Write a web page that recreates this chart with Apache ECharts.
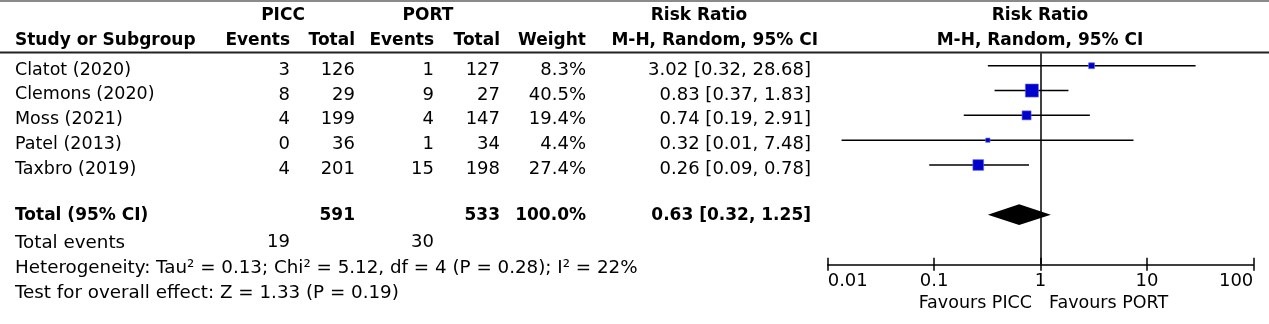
<!DOCTYPE html>
<html><head><meta charset="utf-8">
<script src="https://cdn.jsdelivr.net/npm/echarts@6/dist/echarts.min.js"></script>
<style>html,body{margin:0;padding:0;background:#fff}#c{width:1269px;height:324px}</style>
</head><body><div id="c"></div>
<script>
// ---- data ----
const studies = ['Clatot (2020)', 'Clemons (2020)', 'Moss (2021)', 'Patel (2013)', 'Taxbro (2019)'];
const piccEvents = [3, 8, 4, 0, 4];
const piccTotal = [126, 29, 199, 36, 201];
const portEvents = [1, 9, 4, 1, 15];
const portTotal = [127, 27, 147, 34, 198];
const weights = [8.3, 40.5, 19.4, 4.4, 27.4];
const riskRatio = [3.02, 0.83, 0.74, 0.32, 0.26];
const ciLow = [0.32, 0.37, 0.19, 0.0135, 0.09];
const ciHigh = [28.68, 1.83, 2.91, 7.48, 0.78];
const totalRow = { label: 'Total (95% CI)', piccTotal: 591, portTotal: 533, weight: 100.0, rr: 0.63, lo: 0.32, hi: 1.25 };
const totalEvents = { picc: 19, port: 30 };
const heterogeneityText = 'Heterogeneity: Tau\u00B2 = 0.13; Chi\u00B2 = 5.12, df = 4 (P = 0.28); I\u00B2 = 22%';
const overallText = 'Test for overall effect: Z = 1.33 (P = 0.19)';
const tickLabels = ['0.01', '0.1', '1', '10', '100'];
const favourLeft = 'Favours PICC';
const favourRight = 'Favours PORT';

// ---- layout / style ----
const FONT = '"DejaVu Sans", Verdana, sans-serif';
const fontName = '17.5px ' + FONT;
const fontNum = '18px ' + FONT;
const fontFoot = '18.3px ' + FONT;
const fontB = 'bold 17px ' + FONT;
const COL = { study: 15, evA: 290, totA: 355, evB: 434, totB: 500, weight: 586, ci: 811 };
const TXT_OFF = 4.3;

function fmtCI(r, l, h) { return r.toFixed(2) + ' [' + l.toFixed(2) + ', ' + h.toFixed(2) + ']'; }
function txt(text, x, y, align, font) {
  return { type: 'text', style: { text: text, x: x, y: y, align: align, verticalAlign: 'middle', fill: '#000', font: font } };
}

const chart = echarts.init(document.getElementById('c'), null, { renderer: 'canvas' });

const forestData = studies.map((s, i) => [riskRatio[i], i, ciLow[i], ciHigh[i], weights[i]]);
const tableRows = studies.map((s, i) => [1, i]);

const axisCommon = {
  type: 'log', logBase: 10, min: 0.01, max: 100, gridIndex: 0, position: 'bottom',
  splitLine: { show: false }, minorTick: { show: false }
};

const option = {
  animation: false,
  backgroundColor: '#fff',
  grid: { left: 827.7, right: 15.7, top: 53.3, height: 211, containLabel: false },
  xAxis: [
    Object.assign({}, axisCommon, {
      axisLine: { show: true, onZero: false, lineStyle: { color: '#000', width: 1.5 } },
      axisTick: { show: true, inside: false, length: 6.5, lineStyle: { color: '#000', width: 1.5 } },
      axisLabel: {
        show: true, margin: 8.5, color: '#000', fontFamily: FONT, fontSize: 18,
        alignMinLabel: 'left', alignMaxLabel: 'right',
        formatter: function (v) { return tickLabels[Math.round(Math.log10(v)) + 2]; }
      }
    }),
    Object.assign({}, axisCommon, {
      axisLine: { show: false, onZero: false },
      axisTick: { show: true, inside: true, length: 6.5, lineStyle: { color: '#000', width: 1.5 } },
      axisLabel: { show: false }
    })
  ],
  yAxis: { type: 'value', inverse: true, min: -0.5, max: 8, show: false },
  series: [
    {
      type: 'custom', name: 'forest', xAxisIndex: 0, clip: false,
      data: forestData,
      renderItem: function (params, api) {
        const y = api.value(1);
        const c = api.coord([api.value(0), y]);
        const l = api.coord([api.value(2), y]);
        const h = api.coord([api.value(3), y]);
        const s = 2.05 * Math.sqrt(api.value(4));
        return {
          type: 'group', children: [
            { type: 'line', shape: { x1: l[0], y1: c[1], x2: h[0], y2: c[1] }, style: { stroke: '#000', lineWidth: 1.5 } },
            { type: 'rect', shape: { x: c[0] - s / 2, y: c[1] - s / 2, width: s, height: s }, style: { fill: '#0000CC', stroke: '#6666ee', lineWidth: 0.6 } }
          ]
        };
      },
      markLine: {
        silent: true, symbol: 'none', label: { show: false },
        lineStyle: { color: '#000', width: 1.5, type: 'solid' },
        data: [{ xAxis: 1 }]
      }
    },
    {
      type: 'custom', name: 'diamond', xAxisIndex: 0, clip: false,
      data: [[totalRow.rr, 6, totalRow.lo, totalRow.hi]],
      renderItem: function (params, api) {
        const y = api.value(1);
        const c = api.coord([api.value(0), y]);
        const l = api.coord([api.value(2), y]);
        const h = api.coord([api.value(3), y]);
        const hh = 10.4;
        return { type: 'polygon', shape: { points: [[l[0], c[1]], [c[0], c[1] - hh], [h[0], c[1]], [c[0], c[1] + hh]] }, style: { fill: '#000' } };
      }
    },
    {
      type: 'custom', name: 'table', xAxisIndex: 0, clip: false,
      data: tableRows,
      renderItem: function (params, api) {
        const i = params.dataIndex;
        const y = api.coord([1, api.value(1)])[1] + TXT_OFF;
        return {
          type: 'group', children: [
            txt(studies[i], COL.study, y, 'left', fontName),
            txt(String(piccEvents[i]), COL.evA, y, 'right', fontNum),
            txt(String(piccTotal[i]), COL.totA, y, 'right', fontNum),
            txt(String(portEvents[i]), COL.evB, y, 'right', fontNum),
            txt(String(portTotal[i]), COL.totB, y, 'right', fontNum),
            txt(weights[i].toFixed(1) + '%', COL.weight, y, 'right', fontNum),
            txt(fmtCI(riskRatio[i], ciLow[i], ciHigh[i]), COL.ci, y, 'right', fontNum)
          ]
        };
      }
    },
    {
      type: 'custom', name: 'footer', xAxisIndex: 0, clip: false,
      data: [[1, 6], [1, 7], [1, 8], [1, 9]],
      renderItem: function (params, api) {
        const i = params.dataIndex;
        const base = api.coord([1, api.value(1)])[1];
        if (i === 0) {
          const y = base + 0.5;
          return {
            type: 'group', children: [
              txt(totalRow.label, COL.study, y, 'left', fontB),
              txt(String(totalRow.piccTotal), COL.totA, y, 'right', fontB),
              txt(String(totalRow.portTotal), COL.totB, y, 'right', fontB),
              txt(totalRow.weight.toFixed(1) + '%', COL.weight, y, 'right', fontB),
              txt(fmtCI(totalRow.rr, totalRow.lo, totalRow.hi), COL.ci, y, 'right', fontB)
            ]
          };
        }
        const y = base + 3.3 + (i - 1) * 0.5;
        if (i === 1) {
          return {
            type: 'group', children: [
              txt('Total events', COL.study, y, 'left', fontFoot),
              txt(String(totalEvents.picc), COL.evA, y, 'right', fontNum),
              txt(String(totalEvents.port), COL.evB, y, 'right', fontNum)
            ]
          };
        }
        return txt(i === 2 ? heterogeneityText : overallText, COL.study, y, 'left', fontFoot);
      }
    }
  ],
  graphic: [
    { type: 'line', shape: { x1: 0, y1: 1, x2: 1269, y2: 1 }, style: { stroke: '#8a8a8a', lineWidth: 2 } },
    { type: 'line', shape: { x1: 0, y1: 52.5, x2: 1269, y2: 52.5 }, style: { stroke: '#222', lineWidth: 2 } },
    txt('PICC', 283, 16, 'center', fontB),
    txt('PORT', 428, 16, 'center', fontB),
    txt('Risk Ratio', 699, 16, 'center', fontB),
    txt('Risk Ratio', 1040, 16, 'center', fontB),
    txt('Study or Subgroup', COL.study, 41, 'left', fontB),
    txt('Events', COL.evA, 41, 'right', fontB),
    txt('Total', COL.totA, 41, 'right', fontB),
    txt('Events', COL.evB, 41, 'right', fontB),
    txt('Total', COL.totB, 41, 'right', fontB),
    txt('Weight', COL.weight, 41, 'right', fontB),
    txt('M-H, Random, 95% CI', 818, 41, 'right', fontB),
    txt('M-H, Random, 95% CI', 1040, 41, 'center', fontB),
    txt(favourLeft, 1032, 303.5, 'right', fontName),
    txt(favourRight, 1049, 303.5, 'left', fontName)
  ]
};
chart.setOption(option);
</script>
</body></html>
